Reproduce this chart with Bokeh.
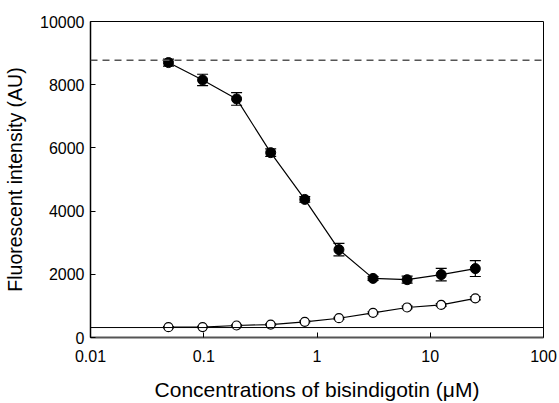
import numpy as np
from bokeh.plotting import figure
from bokeh.models import Range1d, FixedTicker, Span, Whisker, ColumnDataSource, TeeHead
from bokeh.embed import file_html
from bokeh.resources import INLINE

conc = [0.0488, 0.0977, 0.195, 0.39, 0.78, 1.5625, 3.125, 6.25, 12.5, 25.0]
filled = [8700, 8150, 7550, 5850, 4370, 2780, 1870, 1830, 1990, 2180]
filled_err = [110, 180, 200, 120, 90, 200, 60, 110, 200, 250]
open_vals = [326, 330, 380, 410, 497, 610, 780, 950, 1030, 1240]
open_err = [20, 20, 20, 20, 30, 30, 30, 40, 40, 50]
dashed_level = 8770
solid_level = 315
x_ticks = [0.01, 0.1, 1, 10, 100]
x_tick_labels = ["0.01", "0.1", "1", "10", "100"]
y_ticks = [0, 2000, 4000, 6000, 8000, 10000]

FONT = "Liberation Sans"

p = figure(width=559, height=403, x_axis_type="log", output_backend="svg",
           toolbar_location=None, x_range=Range1d(0.01, 100), y_range=Range1d(0, 10000),
           min_border_left=90, min_border_right=16, min_border_top=21, min_border_bottom=66)
p.grid.visible = False
p.outline_line_color = "black"
p.outline_line_width = 1
p.background_fill_color = "white"

for ax in (p.xaxis, p.yaxis):
    ax.major_tick_in = 5
    ax.major_tick_out = 0
    ax.minor_tick_line_color = None
    ax.major_tick_line_color = "black"
    ax.major_label_text_font = FONT
    ax.major_label_text_font_size = "16px"
    ax.major_label_text_color = "black"
    ax.axis_label_text_font = FONT
    ax.axis_label_text_font_style = "normal"
    ax.axis_label_text_color = "black"

p.xaxis.axis_label_text_font_size = "21px"
p.yaxis.axis_label_text_font_size = "19.5px"
p.yaxis.axis_line_color = "black"
p.yaxis.axis_line_width = 1.5
p.xaxis.axis_line_color = "#555555"
p.xaxis.axis_line_width = 2

p.xaxis.ticker = FixedTicker(ticks=x_ticks)
p.xaxis.major_label_overrides = {t: l for t, l in zip(x_ticks, x_tick_labels)}
p.yaxis.ticker = FixedTicker(ticks=y_ticks)
p.xaxis.axis_label = "Concentrations of bisindigotin (\u03bcM)"
p.yaxis.axis_label = "Fluorescent intensity (AU)"
p.xaxis.axis_label_standoff = 13
p.yaxis.axis_label_standoff = 11
p.xaxis.major_label_standoff = 12
p.yaxis.major_label_standoff = 6

p.add_layout(Span(location=dashed_level, dimension="width", line_color="#555555",
                  line_dash="7 5", line_width=1.5))
p.add_layout(Span(location=solid_level, dimension="width", line_color="black", line_width=1))

fsrc = ColumnDataSource(dict(x=conc, y=filled,
                             lo=[v - e for v, e in zip(filled, filled_err)],
                             hi=[v + e for v, e in zip(filled, filled_err)]))
osrc = ColumnDataSource(dict(x=conc, y=open_vals,
                             lo=[v - e for v, e in zip(open_vals, open_err)],
                             hi=[v + e for v, e in zip(open_vals, open_err)]))

for src in (fsrc, osrc):
    w = Whisker(base="x", upper="hi", lower="lo", source=src, line_color="black", line_width=1.2,
                upper_head=TeeHead(size=11, line_color="black", line_width=1.2),
                lower_head=TeeHead(size=11, line_color="black", line_width=1.2))
    p.add_layout(w)

p.line("x", "y", source=fsrc, line_color="black", line_width=1.2)
p.scatter("x", "y", source=fsrc, size=10, fill_color="black", line_color="black")
p.line("x", "y", source=osrc, line_color="black", line_width=1.2)
p.scatter("x", "y", source=osrc, size=9, fill_color="white", line_color="black", line_width=1.2)

open("out.html", "w").write(file_html(p, INLINE))
